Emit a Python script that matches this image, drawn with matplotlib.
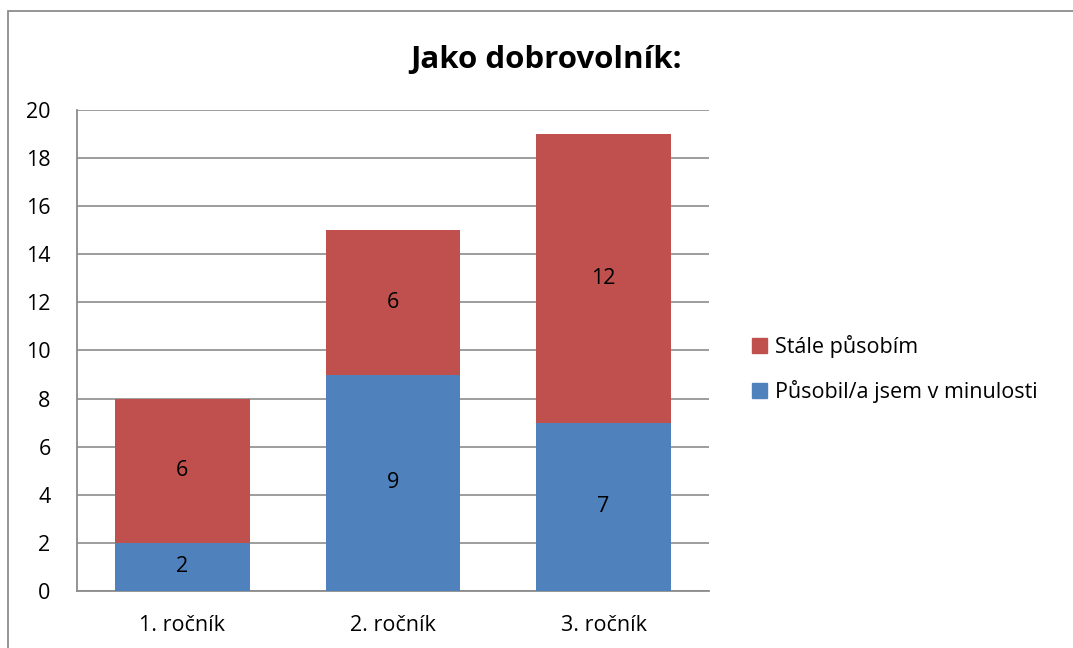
import matplotlib.pyplot as plt
from matplotlib.patches import Rectangle, Patch

categories = ['1. ročník', '2. ročník', '3. ročník']
past = [2, 9, 7]
current = [6, 6, 12]
series_names = ['Působil/a jsem v minulosti', 'Stále působím']
title = 'Jako dobrovolník:'

blue = '#4F81BD'
red = '#C0504D'
grey = '#8C8C8C'

plt.rcParams['font.family'] = ['Open Sans', 'DejaVu Sans']

W, H = 1073, 648
fig = plt.figure(figsize=(W / 100, H / 100), dpi=100)
ax = fig.add_axes([77 / W, 1 - 591 / H, (709 - 77) / W, (591 - 110) / H])

# chart area border (cropped on right and bottom)
fig.patches.append(Rectangle((8 / W, -0.1), 1.2, 1 - 11 / H + 0.1, transform=fig.transFigure,
                             fill=False, edgecolor=grey, linewidth=1.3))

x = range(len(categories))
bw = 0.64
b1 = ax.bar(x, past, width=bw, color=blue, zorder=3)
b2 = ax.bar(x, current, width=bw, bottom=past, color=red, zorder=3)
ax.bar_label(b1, label_type='center', fontsize=15.5)
ax.bar_label(b2, label_type='center', fontsize=15.5)

ax.set_xlim(-0.5, 2.5)
ax.set_ylim(0, 20)
ax.set_yticks(range(0, 21, 2))
ax.set_xticks(list(x))
ax.set_xticklabels(categories)
ax.tick_params(axis='both', length=0, labelsize=15.5, colors='black')
ax.tick_params(axis='y', pad=19)
ax.tick_params(axis='x', pad=17)
ax.grid(axis='y', color=grey, linewidth=1.2, zorder=0)
for s in ['top', 'right']:
    ax.spines[s].set_visible(False)
for s in ['left', 'bottom']:
    ax.spines[s].set_color(grey)
    ax.spines[s].set_linewidth(1.3)

fig.text(546 / W, 1 - 60 / H, title, ha='center', va='center', fontsize=22.5, fontweight='bold')

handles = [Patch(color=red), Patch(color=blue)]
fig.legend(handles, [series_names[1], series_names[0]], loc='center left',
           bbox_to_anchor=(733 / W, 1 - 369 / H), frameon=False, fontsize=15.5,
           handlelength=0.7, handleheight=0.7, handletextpad=0.35, labelspacing=1.05)

fig.savefig('out.png', dpi=100)
